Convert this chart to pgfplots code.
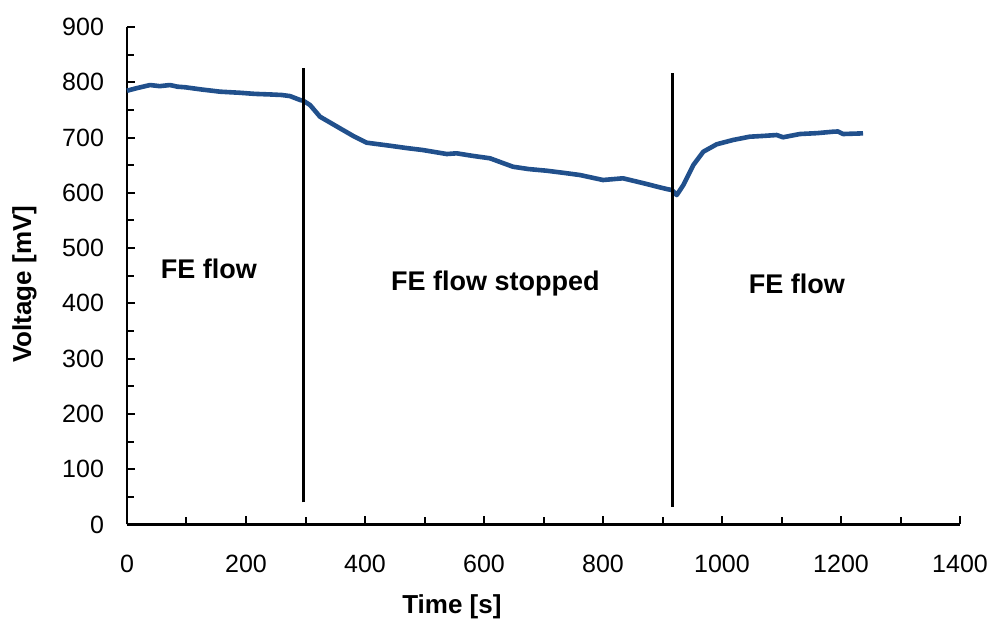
\documentclass[border=0pt]{standalone}
\usepackage{pgfplots}
\pgfplotsset{compat=1.18}
\usepackage{fontspec}
\setmainfont{Liberation Sans}
\definecolor{curve}{RGB}{33,80,140}
\begin{document}
\begin{tikzpicture}
\useasboundingbox (-63.5pt,-50.25pt) rectangle (434pt,262.25pt);
\begin{axis}[
  at={(0pt,0pt)}, anchor=south west,
  scale only axis, width=416.5pt, height=248.75pt,
  xmin=0, xmax=1400, ymin=0, ymax=900,
  axis lines=left, axis line style={-, line width=1.1pt},
  xtick={0,200,...,1400}, minor xtick={100,300,...,1300},
  ytick={0,100,...,900}, minor ytick={50,150,...,850},
  tick align=inside, major tick length=4pt, minor tick length=3.5pt,
  tick style={black, line width=1pt},
  every tick/.style={black, line width=1pt},
  ticklabel style={font=\fontsize{12.5}{15}\selectfont},
  /pgf/number format/assume math mode=true,
  /pgf/number format/1000 sep={},
  xticklabel style={yshift=-11.5pt},
  yticklabel style={xshift=-8pt},
  xlabel={Time [s]}, ylabel={Voltage [mV]},
  label style={font=\fontsize{13}{15.6}\selectfont\bfseries},
  xlabel style={at={(axis description cs:0.39,-0.178)}, anchor=base},
  ylabel style={at={(axis description cs:-0.115,0.483)}, anchor=base},
  clip=false,
]
\addplot[curve, line width=2.3pt, line join=round] coordinates {
(0,784.7) (15,789) (38.7,795) (55,793) (72.3,795) (85,792) (97.5,791)
(125,787) (156.3,783) (190,781) (215,779) (240.3,778) (260,777)
(274,775) (290.8,768) (296.3,766.6) (307.6,758.9) (324.4,737.7)
(358,716.7) (380,703) (402.9,690.7) (441.9,685.2) (470,681)
(497.5,677.4) (537.3,670.2) (554,671.5) (580,667) (610,662.5)
(648.7,647.2) (675,643) (705.4,640) (735,636) (761.3,632.2)
(800,623.2) (833.6,626.3) (873.4,616) (895,610) (909.2,606.4)
(916,605) (923.9,596) (935,614) (951.8,650.3) (968.6,674.4)
(991,687.8) (1018.5,695.6) (1046.2,701.5) (1070,703) (1091.9,704.6)
(1102.5,700.5) (1131,706.4) (1160,708) (1186.6,710.6) (1195,711)
(1203.4,706.4) (1220,707) (1237,707.6)
};
\addplot[black, line width=1.5pt] coordinates {(297,40) (297,825)};
\addplot[black, line width=1.5pt] coordinates {(917,32) (917,817)};
\node[anchor=base, font=\fontsize{13.5}{16}\selectfont\bfseries] at (axis cs:137.8,445.8) {FE flow};
\node[anchor=base, font=\fontsize{13.5}{16}\selectfont\bfseries] at (axis cs:619.3,424) {FE flow stopped};
\node[anchor=base, font=\fontsize{13.5}{16}\selectfont\bfseries] at (axis cs:1126,417) {FE flow};
\end{axis}
\end{tikzpicture}
\end{document}
